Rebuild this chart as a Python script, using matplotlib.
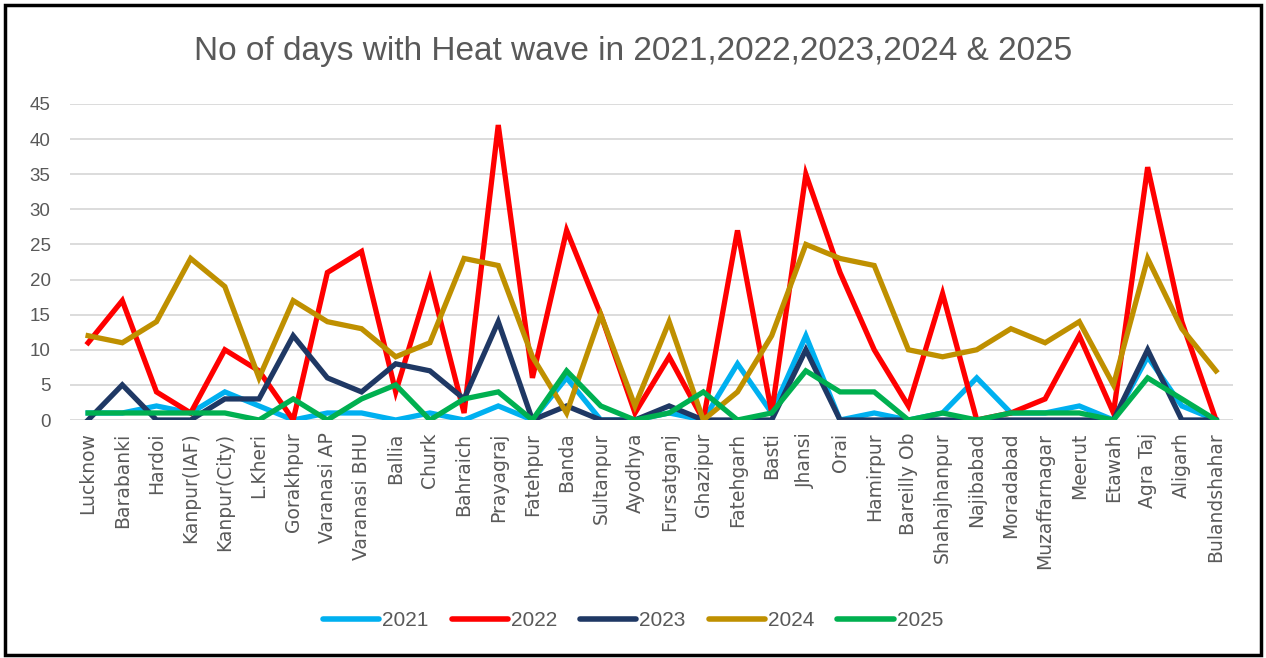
import matplotlib
matplotlib.use("Agg")
import matplotlib.pyplot as plt
from matplotlib.patches import Rectangle

stations = ["Lucknow", "Barabanki", "Hardoi", "Kanpur(IAF)", "Kanpur(City)", "L.Kheri",
            "Gorakhpur", "Varanasi AP", "Varanasi BHU", "Ballia", "Churk", "Bahraich",
            "Prayagraj", "Fatehpur", "Banda", "Sultanpur", "Ayodhya", "Fursatganj",
            "Ghazipur", "Fatehgarh", "Basti", "Jhansi", "Orai", "Hamirpur", "Bareilly Ob",
            "Shahajhanpur", "Najibabad", "Moradabad", "Muzaffarnagar", "Meerut", "Etawah",
            "Agra Taj", "Aligarh", "Bulandshahar"]

y2021 = [1, 1, 2, 1, 4, 2, 0, 1, 1, 0, 1, 0, 2, 0, 6, 0, 0, 1, 0, 8, 1, 12, 0, 1, 0, 1, 6, 1, 1, 2, 0, 9, 2, 0]
y2022 = [11, 17, 4, 1, 10, 7, 0, 21, 24, 4, 20, 1, 42, 6, 27, 15, 1, 9, 0, 27, 1, 35, 21, 10, 2, 18, 0, 1, 3, 12, 1, 36, 14, 0]
y2023 = [0, 5, 0, 0, 3, 3, 12, 6, 4, 8, 7, 3, 14, 0, 2, 0, 0, 2, 0, 0, 0, 10, 0, 0, 0, 0, 0, 0, 0, 0, 0, 10, 0, 0]
y2024 = [12, 11, 14, 23, 19, 6, 17, 14, 13, 9, 11, 23, 22, 9, 1, 15, 2, 14, 0, 4, 12, 25, 23, 22, 10, 9, 10, 13, 11, 14, 5, 23, 13, 7]
y2025 = [1, 1, 1, 1, 1, 0, 3, 0, 3, 5, 0, 3, 4, 0, 7, 2, 0, 1, 4, 0, 1, 7, 4, 4, 0, 1, 0, 1, 1, 1, 0, 6, 3, 0]

years = ["2021", "2022", "2023", "2024", "2025"]
colors = ["#00b0f0", "#ff0000", "#1f3864", "#bf9000", "#00b050"]

plt.rcParams['font.family'] = ['Liberation Sans', 'DejaVu Sans']
grey = "#595959"

fig = plt.figure(figsize=(12.66, 6.58), dpi=100)
ax = fig.add_axes([0.0553, 0.3617, 0.9187, 0.4803])

x = list(range(len(stations)))
for yr, vals, c in zip(years, [y2021, y2022, y2023, y2024, y2025], colors):
    ax.plot(x, vals, color=c, lw=3.8, label=yr, solid_joinstyle='miter')

ax.set_ylim(0, 45)
ax.set_xlim(-0.53, 33.5)
ax.set_yticks(range(0, 46, 5))
ax.set_xticks(x)
ax.set_xticklabels(stations, rotation=90, fontsize=13.5, color=grey, family='DejaVu Sans')
ax.tick_params(axis='y', labelsize=13.5, colors=grey, length=0, pad=14)
ax.tick_params(axis='x', length=0, pad=9)
ax.grid(axis='y', color="#d9d9d9", lw=1.3)
ax.set_axisbelow(True)
for s in ax.spines.values():
    s.set_visible(False)

fig.suptitle("No of days with Heat wave in 2021,2022,2023,2024 & 2025",
             y=0.945, fontsize=24, color=grey)

leg = fig.legend(loc='center', bbox_to_anchor=(0.5, 0.057), ncol=5, frameon=False,
                 fontsize=15, handlelength=2.7, columnspacing=1.1, handletextpad=0.15)
for t in leg.get_texts():
    t.set_color(grey)
for h in leg.get_lines():
    h.set_linewidth(4)
    h.set_solid_capstyle('round')

fig.patches.append(Rectangle((0.004, 0.005), 0.992, 0.988, transform=fig.transFigure,
                             fill=False, edgecolor='black', lw=2.5))

fig.savefig("out.png", dpi=100)
